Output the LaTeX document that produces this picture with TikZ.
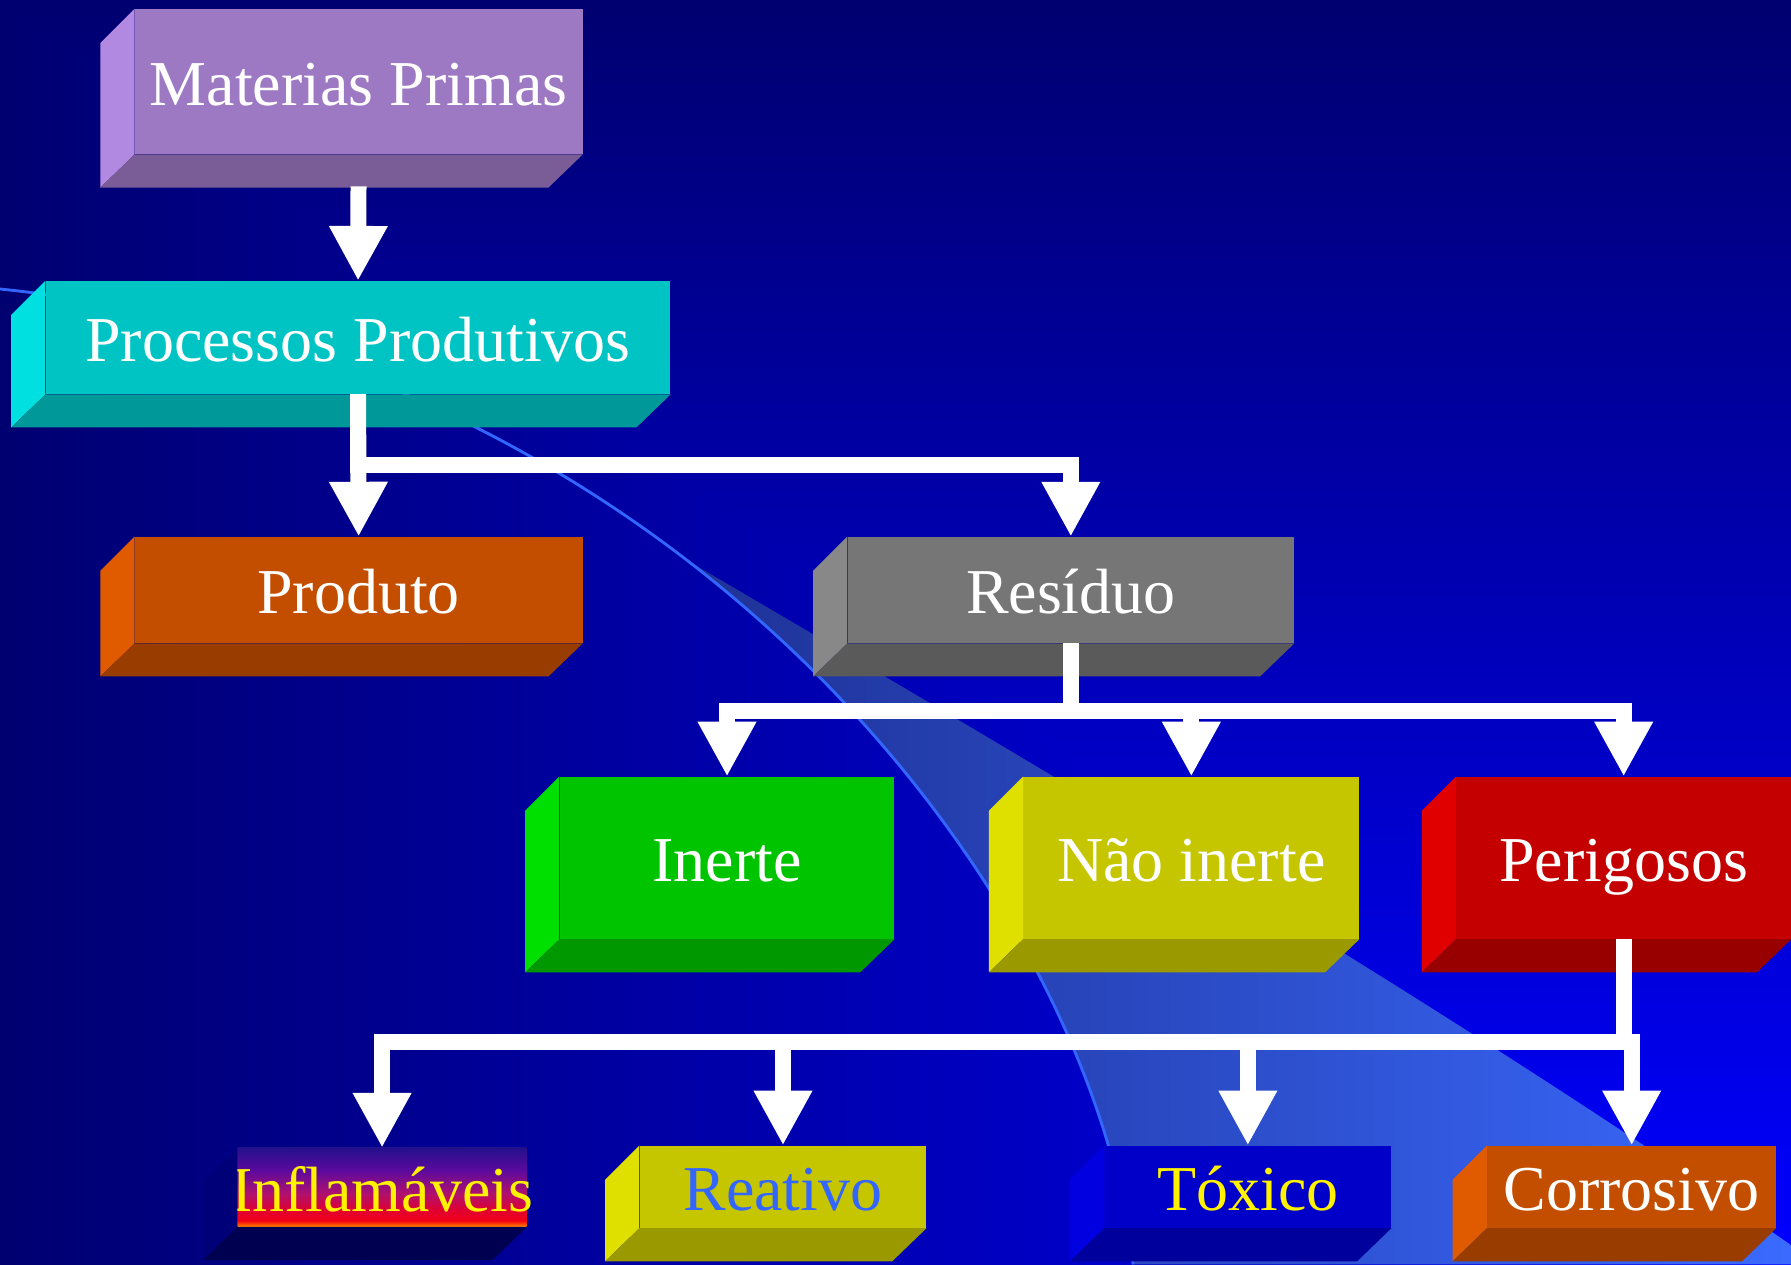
\documentclass[tikz,border=0pt]{standalone}
\usepackage{fontspec}
\setmainfont{Liberation Serif}
\usetikzlibrary{arrows.meta, positioning, calc}

\definecolor{bgnavy}{RGB}{0,0,112}
\definecolor{bgblue}{RGB}{0,0,255}
\definecolor{bandleft}{RGB}{28,44,140}
\definecolor{bandright}{RGB}{58,106,255}
\definecolor{curveblue}{RGB}{51,102,255}
\definecolor{matfront}{RGB}{157,121,196}
\definecolor{matside}{RGB}{178,137,224}
\definecolor{matbot}{RGB}{122,93,150}
\definecolor{profront}{RGB}{0,196,196}
\definecolor{proside}{RGB}{0,224,224}
\definecolor{probot}{RGB}{0,152,152}
\definecolor{orfront}{RGB}{196,78,0}
\definecolor{orside}{RGB}{224,90,0}
\definecolor{orbot}{RGB}{152,60,0}
\definecolor{resfront}{RGB}{118,118,118}
\definecolor{resside}{RGB}{136,136,136}
\definecolor{resbot}{RGB}{90,90,90}
\definecolor{grfront}{RGB}{0,196,0}
\definecolor{grside}{RGB}{0,224,0}
\definecolor{grbot}{RGB}{0,152,0}
\definecolor{yefront}{RGB}{198,198,0}
\definecolor{yeside}{RGB}{224,224,0}
\definecolor{yebot}{RGB}{154,154,0}
\definecolor{refront}{RGB}{196,0,0}
\definecolor{reside}{RGB}{224,0,0}
\definecolor{rebot}{RGB}{152,0,0}
\definecolor{tofront}{RGB}{0,0,200}
\definecolor{toside}{RGB}{0,0,224}
\definecolor{tobot}{RGB}{0,0,156}
\definecolor{flside}{RGB}{0,0,120}
\definecolor{flbot}{RGB}{0,0,80}
\definecolor{reattext}{RGB}{51,102,255}
\definecolor{flame0}{RGB}{255,144,0}
\definecolor{flame1}{RGB}{255,80,0}
\definecolor{flame2}{RGB}{240,0,24}
\definecolor{flame3}{RGB}{224,0,48}
\definecolor{flame4}{RGB}{176,16,110}
\definecolor{flame5}{RGB}{90,10,158}
\definecolor{flame6}{RGB}{36,16,140}

\pgfdeclareverticalshading{flame}{100bp}{color(0bp)=(flame0); color(25bp)=(flame0);
  color(26.5bp)=(flame1); color(29bp)=(flame2); color(35.5bp)=(flame3);
  color(46bp)=(flame4); color(61bp)=(flame5); color(75bp)=(flame6); color(100bp)=(flame6)}

\newcommand{\sidefaces}[3]{%
  \fill[#2] (#1.north west) -- ++(-30,30) -- ($(#1.south west)+(-30,29)$) -- (#1.south west) -- cycle;
  \fill[#3] (#1.south west) -- (#1.south east) -- ++(-30,29) -- ($(#1.south west)+(-30,29)$) -- cycle;
}

\begin{document}
\begin{tikzpicture}[x=1pt, y=-1pt,
    box/.style={rectangle, inner sep=0pt, text=white, font=\fontsize{56}{60}\selectfont,
      text height=42pt, text depth=0pt},
    conn/.style={draw=white, line width=14pt, line join=miter,
      -{Triangle[length=48pt, width=48pt]}}]
  \useasboundingbox (0,0) rectangle (1568,1107);
  \begin{scope}
    \shade[left color=bgnavy, right color=bgblue] (0,0) rectangle (1568,1107);
    \shade[top color=bgnavy, bottom color=bgblue] (0,0) -- (1568,0) -- (1568,1107) -- cycle;
    \begin{scope}
      \clip (0,253) .. controls (600,315) and (955,785) .. (992,1107) -- (1568,1107) -- (1568,0) -- (0,0) -- cycle;
      \shade[left color=bandleft, right color=bandright]
      (515,440) .. controls (900,665) and (1250,870) .. (1568,1090) -- (1568,1107) -- (515,1107) -- cycle;
    \end{scope}
    \draw[curveblue, line width=2.5pt] (0,253) .. controls (600,315) and (955,785) .. (992,1107);
  \end{scope}

  \node[box, fill=matfront, minimum width=392pt, minimum height=127pt] (materias) at (314,71.5) {Materias Primas};
  \sidefaces{materias}{matside}{matbot}
  \node[box, fill=profront, minimum width=547pt, minimum height=99pt] (processos) at (313.5,295.5) {Processos Produtivos};
  \sidefaces{processos}{proside}{probot}
  \node[box, fill=orfront, minimum width=392pt, minimum height=93pt] (produto) at (314,516.5) {Produto};
  \sidefaces{produto}{orside}{orbot}
  \node[box, fill=resfront, minimum width=391pt, minimum height=93pt] (residuo) at (937.5,516.5) {Resíduo};
  \sidefaces{residuo}{resside}{resbot}

  \node[box, fill=grfront, minimum width=293pt, minimum height=142pt] (inerte) at (636.5,751) {Inerte};
  \sidefaces{inerte}{grside}{grbot}
  \node[box, fill=yefront, minimum width=294pt, minimum height=142pt] (naoinerte) at (1043,751) {Não inerte};
  \sidefaces{naoinerte}{yeside}{yebot}
  \node[box, fill=refront, minimum width=293pt, minimum height=142pt] (perigosos) at (1421.5,751) {Perigosos};
  \sidefaces{perigosos}{reside}{rebot}

  \node[box, shade, shading=flame, text=yellow, minimum width=253pt, minimum height=69pt] (inflamaveis) at (334.5,1039.5) {\makebox[253pt]{Inflamáveis}};
  \sidefaces{inflamaveis}{flside}{flbot}
  \node[box, fill=yefront, text=reattext, minimum width=251pt, minimum height=72pt] (reativo) at (685.5,1039) {Reativo};
  \sidefaces{reativo}{yeside}{yebot}
  \node[box, fill=tofront, text=yellow, minimum width=251pt, minimum height=72pt] (toxico) at (1092.5,1039) {Tóxico};
  \sidefaces{toxico}{toside}{tobot}
  \node[box, fill=orfront, minimum width=253pt, minimum height=72pt] (corrosivo) at (1428.5,1039) {Corrosivo};
  \sidefaces{corrosivo}{orside}{orbot}

  \draw[conn, shorten <=28pt] (materias.south) -- (processos.north);
  \draw[conn] (processos.south) -- (produto.north);
  \draw[conn] (processos.south) -- ++(0,62) -| (residuo.north);
  \draw[conn] (residuo.south) -- ++(0,59) -| (inerte.north);
  \draw[conn] (residuo.south) -- ++(0,59) -| (naoinerte.north);
  \draw[conn] (residuo.south) -- ++(0,59) -| (perigosos.north);
  \draw[conn] (perigosos.south) -- ++(0,90) -| (inflamaveis.north);
  \draw[conn] (perigosos.south) -- ++(0,90) -| (reativo.north);
  \draw[conn] (perigosos.south) -- ++(0,90) -| (toxico.north);
  \draw[conn] (perigosos.south) -- ++(0,90) -| (corrosivo.north);
\end{tikzpicture}
\end{document}
